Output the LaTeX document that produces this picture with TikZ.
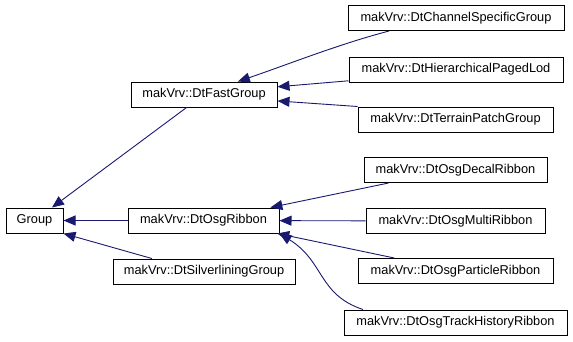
\documentclass[tikz,border=0pt]{standalone}
\usepackage{fontspec}
\setmainfont{Liberation Sans}
\usetikzlibrary{arrows.meta}
\definecolor{edgeblue}{HTML}{191970}
\tikzset{
  cls/.style={draw=black, fill=white, line width=1pt, minimum height=25pt, inner sep=0pt, font=\fontsize{12.8}{15}\selectfont},
  inh/.style={draw=edgeblue, line width=0.9pt, -{Triangle[length=12pt,width=10pt]}}
}
\begin{document}
\begin{tikzpicture}[x=1pt,y=-1pt]
\useasboundingbox (0,0) rectangle (573,341);
\node[cls, minimum width=57pt] (group) at (34.5,220.5) {Group};
\node[cls, minimum width=146pt] (fast) at (204,94.5) {makVrv::DtFastGroup};
\node[cls, minimum width=151pt] (osg) at (203.5,220.5) {makVrv::DtOsgRibbon};
\node[cls, minimum width=182pt] (silver) at (204,271.5) {makVrv::DtSilverliningGroup};
\node[cls, minimum width=216pt] (channel) at (456,18) {makVrv::DtChannelSpecificGroup};
\node[cls, minimum width=214pt] (hier) at (456,69.5) {makVrv::DtHierarchicalPagedLod};
\node[cls, minimum width=195pt] (terrain) at (455.5,119.5) {makVrv::DtTerrainPatchGroup};
\node[cls, minimum width=183pt] (decal) at (455.5,170) {makVrv::DtOsgDecalRibbon};
\node[cls, minimum width=179pt] (multi) at (455.5,221) {makVrv::DtOsgMultiRibbon};
\node[cls, minimum width=195pt] (particle) at (455.5,271) {makVrv::DtOsgParticleRibbon};
\node[cls, minimum width=223pt] (track) at (455.5,322.5) {makVrv::DtOsgTrackHistoryRibbon};
\draw[inh] (fast) -- (group);
\draw[inh] (osg) -- (group);
\draw[inh] (silver.166) -- (group.south east);
\draw[inh] (channel.191) .. controls +(-50,13) and +(50,-17) .. (fast.21);
\draw[inh] (hier.186) -- (fast.6);
\draw[inh] (terrain.north west) -- (fast.-5);
\draw[inh] (decal.191) -- (osg.11);
\draw[inh] (multi) -- (osg);
\draw[inh] (particle.168) -- (osg.-10);
\draw[inh] (track.172) .. controls +(-45,-15) and +(45,28) .. (osg.south east);
\end{tikzpicture}
\end{document}
